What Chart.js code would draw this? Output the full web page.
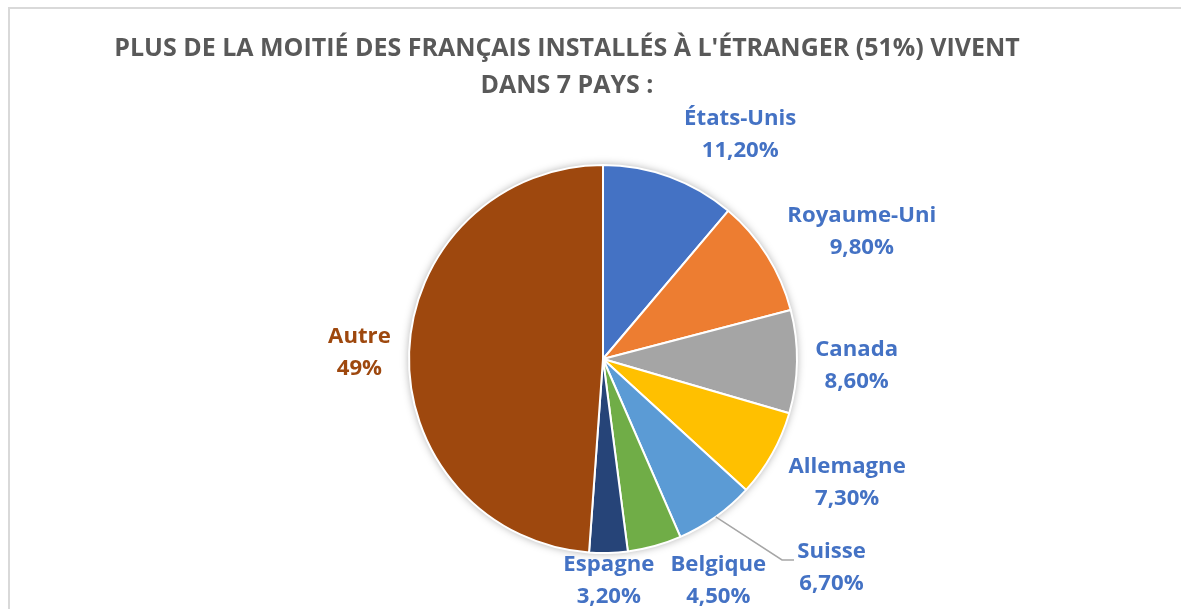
<!DOCTYPE html>
<html>
<head>
<meta charset="utf-8">
<script src="https://cdn.jsdelivr.net/npm/chart.js@4.4.0/dist/chart.umd.min.js"></script>
<style>
  body { margin: 0; background: #fff; }
  #frame { position: absolute; left: 8px; top: 7px; width: 1200px; height: 700px;
           border-left: 2px solid #d9d9d9; border-top: 2px solid #d9d9d9; }
  #wrap { position: absolute; left: 0; top: 0; width: 1181px; height: 609px; }
</style>
</head>
<body>
<div id="frame"></div>
<div id="wrap"><canvas id="pieChart" width="1181" height="609"></canvas></div>
<script>
// Chart data
const countries = ['États-Unis', 'Royaume-Uni', 'Canada', 'Allemagne', 'Suisse', 'Belgique', 'Espagne', 'Autre'];
const shares = [11.2, 9.8, 8.6, 7.3, 6.7, 4.5, 3.2, 49];
const shareLabels = ['11,20%', '9,80%', '8,60%', '7,30%', '6,70%', '4,50%', '3,20%', '49%'];
const sliceColors = ['#4472C4', '#ED7D31', '#A5A5A5', '#FFC000', '#5B9BD5', '#70AD47', '#264478', '#9E480E'];
const titleLines = ["PLUS DE LA MOITIÉ DES FRANÇAIS INSTALLÉS À L'ÉTRANGER (51%) VIVENT", 'DANS 7 PAYS :'];

// label placement around the pie (angle in degrees, distance in radii)
const labelPlaces = [[-58.5, 1.354], [-26.2, 1.487], [1.6, 1.308], [26.8, 1.41],
                     [42.4, 1.595], [62.5, 1.287], [88.5, 1.144], [181.4, 1.256]];

const FONT = '"Open Sans", sans-serif';

function fitSize(ctx, text, width) {
  ctx.font = 'bold 100px ' + FONT;
  return 100 * width / ctx.measureText(text).width;
}

// soft shadow behind the pie
const pieShadow = {
  id: 'pieShadow',
  beforeDatasetsDraw(chart) {
    const arc = chart.getDatasetMeta(0).data[0];
    const ctx = chart.ctx;
    ctx.save();
    ctx.shadowColor = 'rgba(0,0,0,0.35)';
    ctx.shadowBlur = 8;
    ctx.fillStyle = '#fff';
    ctx.beginPath();
    ctx.arc(arc.x, arc.y, arc.outerRadius, 0, Math.PI * 2);
    ctx.fill();
    ctx.restore();
  }
};

// title and data labels
const pieText = {
  id: 'pieText',
  afterDatasetsDraw(chart) {
    const ctx = chart.ctx;
    const meta = chart.getDatasetMeta(0);
    ctx.save();
    ctx.textAlign = 'center';
    ctx.textBaseline = 'middle';

    const ts = fitSize(ctx, titleLines[0], 906);
    ctx.font = 'bold ' + ts + 'px ' + FONT;
    ctx.fillStyle = '#595959';
    ctx.fillText(titleLines[0], 567, 49);
    ctx.fillText(titleLines[1], 567, 86);

    const ls = fitSize(ctx, 'Royaume-Uni', 149);
    ctx.font = 'bold ' + ls + 'px ' + FONT;
    meta.data.forEach((arc, i) => {
      const a = labelPlaces[i][0] * Math.PI / 180;
      const d = labelPlaces[i][1] * arc.outerRadius;
      const x = arc.x + Math.cos(a) * d;
      const y = arc.y + Math.sin(a) * d;
      ctx.fillStyle = i === countries.length - 1 ? '#9E480E' : '#4472C4';
      ctx.fillText(countries[i], x, y - 16);
      ctx.fillText(shareLabels[i], x, y + 16);
    });

    // leader line for Suisse
    const arc = meta.data[4];
    const mid = (arc.startAngle + arc.endAngle) / 2;
    const sx = arc.x + Math.cos(mid) * arc.outerRadius;
    const sy = arc.y + Math.sin(mid) * arc.outerRadius;
    ctx.strokeStyle = '#A6A6A6';
    ctx.lineWidth = 1.5;
    ctx.beginPath();
    ctx.moveTo(sx, sy);
    ctx.lineTo(782, 560);
    ctx.lineTo(794, 560);
    ctx.stroke();
    ctx.restore();
  }
};

const ctx = document.getElementById('pieChart').getContext('2d');
new Chart(ctx, {
  type: 'pie',
  data: {
    labels: countries,
    datasets: [{
      data: shares,
      backgroundColor: sliceColors,
      borderColor: '#ffffff',
      borderWidth: 2,
      hoverOffset: 0
    }]
  },
  options: {
    responsive: false,
    animation: false,
    layout: { padding: { top: 164, bottom: 55, left: 408, right: 383 } },
    plugins: {
      legend: { display: false },
      tooltip: { enabled: false },
      title: { display: false }
    }
  },
  plugins: [pieShadow, pieText]
});
</script>
</body>
</html>
